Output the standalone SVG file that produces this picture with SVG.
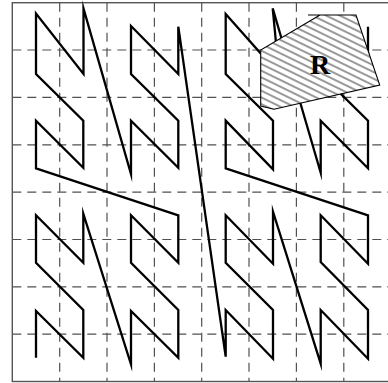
<svg xmlns="http://www.w3.org/2000/svg" width="388" height="383" viewBox="0 0 388 383">
<defs>
<style>
.grid{stroke:#505050;stroke-width:1.2;stroke-dasharray:9 6;fill:none}
.border{stroke:#555;stroke-width:1.4;fill:none}
.curve{stroke:#000;stroke-width:2.3;fill:none;stroke-linejoin:miter;stroke-miterlimit:10}
.region{fill:url(#hatch);stroke:#000;stroke-width:1.1}
.label{font-family:"Liberation Serif","Times New Roman",serif;font-weight:bold;font-size:28px;fill:#000}
</style>
<pattern id="hatch" patternUnits="userSpaceOnUse" width="10" height="6" patternTransform="rotate(26)">
<rect width="10" height="6" fill="#fff"/>
<line x1="0" y1="3" x2="10" y2="3" stroke="#000" stroke-width="0.8"/>
</pattern>
</defs>
<rect width="388" height="383" fill="#fff"/>
<g id="grid">
<line class="grid" x1="59.7" y1="2.7" x2="59.7" y2="381.5"/>
<line class="grid" x1="107" y1="2.7" x2="107" y2="381.5"/>
<line class="grid" x1="154.4" y1="2.7" x2="154.4" y2="381.5"/>
<line class="grid" x1="201.7" y1="2.7" x2="201.7" y2="381.5"/>
<line class="grid" x1="249" y1="2.7" x2="249" y2="381.5"/>
<line class="grid" x1="296.4" y1="2.7" x2="296.4" y2="381.5"/>
<line class="grid" x1="343.8" y1="2.7" x2="343.8" y2="381.5"/>
<line class="grid" x1="12.3" y1="50" x2="391" y2="50"/>
<line class="grid" x1="12.3" y1="97.4" x2="391" y2="97.4"/>
<line class="grid" x1="12.3" y1="144.8" x2="391" y2="144.8"/>
<line class="grid" x1="12.3" y1="192.1" x2="391" y2="192.1"/>
<line class="grid" x1="12.3" y1="239.5" x2="391" y2="239.5"/>
<line class="grid" x1="12.3" y1="286.8" x2="391" y2="286.8"/>
<line class="grid" x1="12.3" y1="334.2" x2="391" y2="334.2"/>
<rect class="border" x="12.3" y="2.7" width="378.8" height="378.8"/>
</g>
<g id="connectors">
<polyline class="curve" points="36,357.7 36,311 83.3,357.7 83.3,310 36,262.7 36,215.3 83.3,262.7 83.3,213.7 131,364.3 131,311 178.3,357.7 178.3,310 131,262.7 131,215.3 178.3,262.7 178.3,215.3 36,168.3 36,120.7 83.3,167.7 83.3,120.7 36,74 36,13.5 83.5,74 83.5,8.5 131,174 131,120.7 178.3,167.7 178.3,120.7 131,74 131,26 178.3,74 178.3,26.7 225.7,356.7 225.7,310 273,358.7 273,310 225.7,262.7 225.7,215.3 273,263.7 273,211.7 320.7,363.7 320.7,310 368,358.7 368,310 320.7,262 320.7,215.3 368,263.7 368,215.3 225.7,168.3 225.7,120.7 273,169.3 273,120.7 225.7,74 225.7,14 279,74 272.7,8.3 320.7,172.7 320.7,120.7 368,168.3 368,120.7 320.7,74 320.7,26 368,74 368,26.7"/>
</g>
<g id="region-R">
<polygon class="region" points="308,15 356,15 379.7,85 274,109.3 260.7,106 260.7,50 320,15"/>
<text class="label" x="320" y="74" text-anchor="middle">R</text>
</g>
</svg>
